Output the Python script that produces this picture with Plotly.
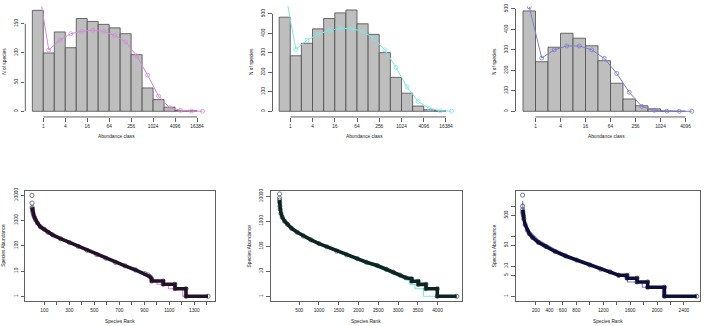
import plotly.graph_objects as go

W, H = 708, 326

# ---------------- data: Preston octave histograms ----------------
oct_labels = ["1", "4", "16", "64", "256", "1024", "4096", "16384"]

h1_obs = [173, 100, 136, 109, 159, 154, 149, 143, 133, 97, 40, 20, 7, 1.5, 1]
h1_fit = [220, 105, 122, 133, 137, 139, 137, 130, 119, 95, 62, 26, 6, 1.7, 0.3, 0]

h2_obs = [483, 285, 349, 423, 476, 505, 520, 449, 395, 301, 174, 93, 27, 8, 3]
h2_fit = [627, 318, 365, 395, 415, 425, 425, 410, 375, 315, 225, 125, 50, 15, 3, 0.5]

h3_obs = [490, 242, 313, 381, 357, 320, 247, 137, 60, 27, 12, 1, 0]
h3_fit = [510, 260, 300, 319, 319, 300, 258, 185, 93, 24, 5, 0.5, 0, 0]

# ---------------- data: rank-abundance ----------------
r1_rank = [1, 2, 3, 4, 6, 9, 15, 22, 30, 45, 69, 100, 130, 166, 230, 300, 370, 442, 520, 592,
           670, 746, 830, 905, 930, 945, 958, 959, 1051, 1052, 1145, 1146, 1233, 1234, 1410]
r1_abund = [9800, 4900, 3300, 2900, 2500, 2050, 1600, 1300, 1050, 800, 560, 450, 340, 270, 190, 135,
            95, 66, 45, 32, 22, 16, 11, 7.8, 7, 6, 5, 4, 4, 3, 3, 2, 2, 1, 1]
r1_fit_rank = [1, 3, 10, 30, 69, 166, 300, 442, 592, 746, 905, 1000, 1001, 1092, 1093, 1207, 1208, 1410]
r1_fit_abund = [3800, 2900, 1900, 1050, 540, 260, 130, 64, 31, 15, 7, 4, 3, 3, 2, 2, 1, 1]

r2_rank = [1, 2, 3, 5, 11, 20, 38, 70, 131, 200, 305, 450, 606, 800, 1001, 1200, 1450, 1700, 1970,
           2200, 2475, 2700, 2881, 3050, 3200, 3346, 3347, 3513, 3514, 3708, 3709, 3994, 3995, 4486]
r2_abund = [12300, 8500, 7000, 5600, 4000, 3000, 2050, 1450, 1000, 760, 520, 360, 256, 180, 128, 95,
            64, 45, 32, 23, 17, 12, 9.2, 7, 5.5, 5, 4, 4, 3, 3, 2, 2, 1, 1]
r2_fit_rank = [1, 10, 38, 131, 305, 606, 1001, 1450, 1970, 2475, 2881, 3150, 3300, 3301, 3430,
               3431, 3645, 3646, 4486]
r2_fit_abund = [6000, 3500, 1900, 950, 500, 245, 120, 60, 29, 14, 8, 5, 4, 3, 3, 2, 2, 1, 1]

r3_rank = [1, 2, 3, 5, 8, 13, 20, 40, 70, 100, 150, 237, 350, 484, 640, 804, 1000, 1161, 1300,
           1430, 1431, 1554, 1555, 1703, 1704, 1860, 1861, 2110, 2111, 2590]
r3_abund = [2330, 1000, 760, 640, 560, 480, 380, 240, 160, 122, 90, 62, 45, 31, 22, 16, 11, 8, 6.5,
            5, 5, 5, 4, 4, 3, 3, 2, 2, 1, 1]
r3_fit_rank = [1, 10, 40, 100, 237, 484, 804, 1161, 1400, 1560, 1561, 1780, 1781, 2080, 2081, 2590]
r3_fit_abund = [1500, 600, 280, 150, 75, 36, 17, 8.5, 5.5, 4, 3, 3, 2, 2, 1, 1]

# ---------------- styling ----------------
FONT = "Liberation Sans, Arial, sans-serif"
FS = 4.8
AX = "#3a3a3a"
fit_cols = ["#d28ad8", "#7fe6e6", "#7c7cd2"]
obs_cols = ["#24122a", "#0c2624", "#0e0e3a"]
TL = 3.6


def dx(l, r):
    return [l / W, r / W]


def dy(t, b):
    return [1 - b / H, 1 - t / H]


def ax_ids(i):
    s = "" if i == 1 else str(i)
    return "x" + s, "y" + s, "xaxis" + s, "yaxis" + s


def label(text, px, py, angle=0):
    return dict(text=text, x=px / W, y=1 - py / H, xref="paper", yref="paper",
                xanchor="center", yanchor="middle", showarrow=False, textangle=angle,
                font=dict(size=FS))


fig = go.Figure()
layout = dict(width=W, height=H, margin=dict(l=0, r=0, t=0, b=0),
              paper_bgcolor="white", plot_bgcolor="white", showlegend=False,
              font=dict(family=FONT, size=FS, color="#222"), bargap=0)
shapes, annots = [], []

top_specs = [
    (h1_obs, h1_fit, (25.3, 208), (-0.64, 16.0), (-9.7, 180), [0, 50, 100, 150]),
    (h2_obs, h2_fit, (272.5, 457.1), (-0.6, 16.0), (-29, 539), [0, 100, 200, 300, 400, 500]),
    (h3_obs, h3_fit, (515.5, 698), (-0.6, 14.0), (-27.6, 512.8), [0, 100, 200, 300, 400, 500]),
]

for k, (obs, fit, xpx, xr, yr, yt) in enumerate(top_specs):
    xa, ya, xk, yk = ax_ids(k + 1)
    fig.add_trace(go.Bar(x=[j + 0.5 for j in range(len(obs))], y=obs, width=1,
                         marker=dict(color="#bebebe", line=dict(color="#4a4a4a", width=0.8)),
                         xaxis=xa, yaxis=ya))
    fig.add_trace(go.Scatter(x=[j + 0.5 for j in range(len(fit))], y=fit, mode="lines+markers",
                             line=dict(color=fit_cols[k], width=1),
                             marker=dict(symbol="circle-open", size=4, color=fit_cols[k],
                                         line=dict(width=0.8)),
                             xaxis=xa, yaxis=ya))
    nl = len(oct_labels) if k < 2 else 7
    tv = [2 * j + 1 for j in range(nl)]
    layout[xk] = dict(domain=dx(*xpx), range=list(xr), anchor=ya, showgrid=False,
                      zeroline=False, showline=False, tickmode="array", tickvals=tv,
                      ticktext=oct_labels[:nl], ticks="outside", ticklen=TL,
                      tickcolor=AX, tickwidth=0.8, ticklabelstandoff=1,
                      tickfont=dict(size=FS))
    layout[yk] = dict(domain=dy(3.3, 115), range=list(yr), anchor=xa, showgrid=False,
                      zeroline=False, showline=False, tickmode="array", tickvals=yt,
                      ticks="outside", ticklen=TL, tickcolor=AX, tickwidth=0.8,
                      tickangle=-90, ticklabelstandoff=1, tickfont=dict(size=FS))
    shapes.append(dict(type="line", xref=f"{xa} domain", x0=0, x1=0, yref=ya, y0=yt[0], y1=yt[-1],
                       line=dict(color=AX, width=0.8)))
    shapes.append(dict(type="line", xref=xa, x0=tv[0], x1=tv[-1], yref=f"{ya} domain", y0=0, y1=0,
                       line=dict(color=AX, width=0.8)))
    cx = (xpx[0] + xpx[1]) / 2
    annots.append(label("Abundance class", cx, 135))
    annots.append(label("N of species", xpx[0] - 21, 59, -90))

bot_specs = [
    (r1_rank, r1_abund, r1_fit_rank, r1_fit_abund, (25, 215), (-54.4, 1465.6), (-0.184, 4.184),
     list(range(100, 1401, 100)), [str(v) if v % 200 == 100 else "" for v in range(100, 1401, 100)],
     [1, 10, 100, 1000, 10000], ["1", "10", "100", "1000", "10000"]),
    (r2_rank, r2_abund, r2_fit_rank, r2_fit_abund, (270.7, 462), (-222, 4620), (-0.186, 4.226),
     list(range(500, 4001, 500)), [str(v) for v in range(500, 4001, 500)],
     [1, 10, 100, 1000, 10000], ["1", "10", "100", "1000", "10000"]),
    (r3_rank, r3_abund, r3_fit_rank, r3_fit_abund, (515.5, 700), (-104, 2639), (-0.155, 3.52),
     list(range(200, 2401, 200)),
     [str(v) if v in (200, 400, 600, 800, 1200, 1600, 2000, 2400) else "" for v in range(200, 2401, 200)],
     [1, 5, 10, 50, 100, 500, 1000], ["1", "5", "10", "50", "", "500", ""]),
]

for k, (rk, ab, frk, fab, xpx, xr, yr, xtv, xtt, ytv, ytt) in enumerate(bot_specs):
    xa, ya, xk, yk = ax_ids(k + 4)
    fig.add_trace(go.Scatter(x=frk, y=fab, mode="lines", line=dict(color=fit_cols[k], width=1.1),
                             xaxis=xa, yaxis=ya))
    fig.add_trace(go.Scatter(x=rk[2:], y=ab[2:], mode="lines", line=dict(color=obs_cols[k], width=3.6),
                             xaxis=xa, yaxis=ya))
    fig.add_trace(go.Scatter(x=rk, y=ab, mode="markers",
                             marker=dict(symbol="circle-open", size=4.2, color=obs_cols[k],
                                         line=dict(width=0.8)),
                             opacity=0.7, xaxis=xa, yaxis=ya))
    layout[xk] = dict(domain=dx(*xpx), range=list(xr), anchor=ya, showgrid=False,
                      zeroline=False, showline=True, mirror=True, linecolor=AX,
                      linewidth=0.8, tickmode="array", tickvals=xtv, ticktext=xtt,
                      ticks="outside", ticklen=TL, tickcolor=AX, tickwidth=0.8,
                      ticklabelstandoff=1, tickfont=dict(size=FS))
    layout[yk] = dict(domain=dy(189.3, 300.7), type="log", range=list(yr), anchor=xa,
                      showgrid=False, zeroline=False, showline=True, mirror=True,
                      linecolor=AX, linewidth=0.8, tickmode="array", tickvals=ytv,
                      ticktext=ytt, ticks="outside", ticklen=TL, tickcolor=AX,
                      tickwidth=0.8, tickangle=-90, ticklabelstandoff=1,
                      tickfont=dict(size=FS))
    cx = (xpx[0] + xpx[1]) / 2
    annots.append(label("Species Rank", cx, 321.7))
    annots.append(label("Species Abundance", xpx[0] - 21, 245, -90))

layout["shapes"] = shapes
layout["annotations"] = annots
fig.update_layout(**layout)
fig.write_html("out.html", config={"displayModeBar": False, "staticPlot": True},
               post_script="document.body.style.margin='0';document.body.style.padding='0';")
